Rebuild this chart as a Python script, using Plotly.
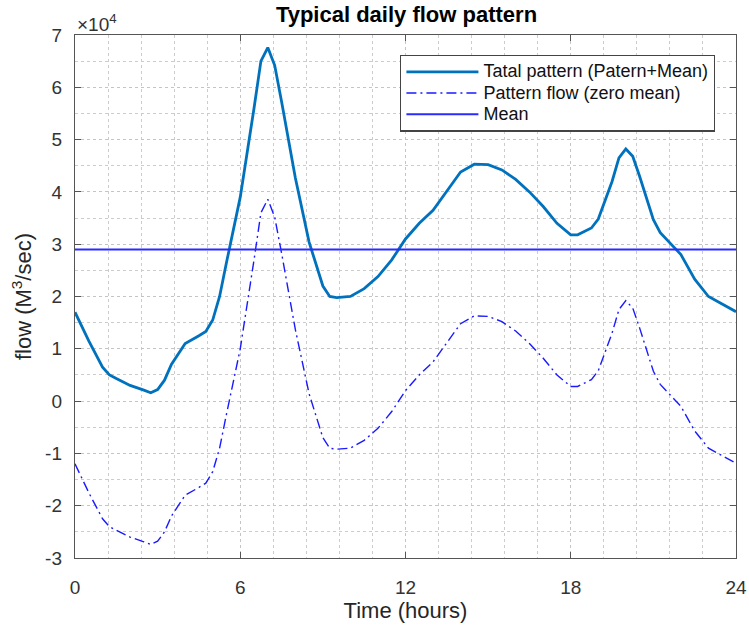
import plotly.graph_objects as go

hours = [0, 0.5, 1, 1.25, 1.5, 2, 2.5, 2.75, 3, 3.25, 3.5, 4, 4.5, 4.75, 5,
         5.25, 5.5, 6, 6.5, 6.75, 7, 7.25, 7.5, 8, 8.5, 9, 9.25, 9.5, 10, 10.5,
         11, 11.5, 12, 12.5, 13, 13.5, 14, 14.5, 15, 15.5, 16, 16.5, 17, 17.5, 18,
         18.25, 18.75, 19, 19.5, 19.75, 20, 20.25, 20.5, 21, 21.25, 22, 22.5, 23, 23.5, 24]

total_flow = [17000, 11500, 6500, 5000, 4300, 3000, 2100, 1600, 2200, 4000,
              7000, 11000, 12500, 13300, 15500, 20000, 26500, 39000, 56000, 65000,
              67600, 64200, 57300, 42700, 30400, 22000, 20000, 19800, 20000, 21500,
              23800, 27000, 31000, 34000, 36500, 40200, 43800, 45300, 45200, 44200,
              42400, 40000, 37200, 34000, 31800, 31800, 33100, 34800, 42000, 46500,
              48200, 46800, 43000, 34700, 32200, 28000, 23300, 20000, 18500, 17100]

pattern_flow = [-12000, -17500, -22500, -24000, -24700, -26000, -26900, -27400, -26800, -25000,
                -22000, -18000, -16500, -15700, -13500, -9000, -2500, 10000, 27000, 36000,
                38600, 35200, 28300, 13700, 1400, -7000, -9000, -9200, -9000, -7500,
                -5200, -2000, 2000, 5000, 7500, 11200, 14800, 16300, 16200, 15200,
                13400, 11000, 8200, 5000, 2800, 2800, 4100, 5800, 13000, 17500,
                19200, 17800, 14000, 5700, 3200, -1000, -5700, -9000, -10500, -11900]

mean_flow = 29000

series_names = ["Tatal pattern (Patern+Mean)", "Pattern flow (zero mean)", "Mean"]

x_ticks = [0, 6, 12, 18, 24]
y_ticks = [-30000, -20000, -10000, 0, 10000, 20000, 30000, 40000, 50000, 60000, 70000]
y_tick_labels = ["-3", "-2", "-1", "0", "1", "2", "3", "4", "5", "6", "7"]

FONT = "Liberation Sans, Arial, sans-serif"


def legend_label(s):
    return '<span style="font-size:18px">' + s + '</span>'


fig = go.Figure()
fig.add_trace(go.Scatter(x=hours, y=total_flow, mode="lines",
                         name=legend_label(series_names[0]),
                         line=dict(color="#0072BD", width=2.8)))
fig.add_trace(go.Scatter(x=hours, y=pattern_flow, mode="lines",
                         name=legend_label(series_names[1]),
                         line=dict(color="#1a1aff", width=1.4, dash="10px,4px,2px,4px")))
fig.add_trace(go.Scatter(x=[0, 24], y=[mean_flow, mean_flow], mode="lines",
                         name=legend_label(series_names[2]),
                         line=dict(color="#2b2bff", width=2)))

axis_common = dict(
    showline=True, linecolor="#555555", linewidth=1.4, mirror="ticks",
    ticks="inside", ticklen=6, tickcolor="#555555", tickwidth=1.2,
    showgrid=True, gridcolor="#c4c4c4", griddash="dot", gridwidth=1,
    zeroline=False, automargin=False,
    tickfont=dict(family=FONT, size=19, color="#333333"),
)

fig.update_xaxes(range=[0, 24], tickvals=x_ticks, ticklabelstandoff=12,
                 minor=dict(dtick=1.2, tick0=0, showgrid=True, gridcolor="#cccccc",
                            griddash="dot", ticks=""),
                 title=dict(text="Time (hours)", standoff=5,
                            font=dict(family=FONT, size=22, color="#262626")),
                 **axis_common)
fig.update_yaxes(range=[-30000, 70000], tickvals=y_ticks, ticktext=y_tick_labels,
                 ticklabelstandoff=8,
                 minor=dict(dtick=5000, tick0=0, showgrid=True, gridcolor="#cccccc",
                            griddash="dot", ticks=""),
                 title=dict(text="flow (M<sup>3</sup>/sec)", standoff=7,
                            font=dict(family=FONT, size=22, color="#262626")),
                 **axis_common)

fig.add_annotation(text="\u00d710<sup>4</sup>", xref="paper", yref="paper",
                   x=0, y=1, xanchor="left", yanchor="bottom", showarrow=False,
                   yshift=-2, xshift=0,
                   font=dict(family=FONT, size=19, color="#333333"))

fig.update_layout(
    width=749, height=628,
    margin=dict(l=75, r=13, t=35, b=70),
    plot_bgcolor="white", paper_bgcolor="white",
    title=dict(text="<b>Typical daily flow pattern</b>", x=0.5427, xanchor="center",
               y=0.977, yanchor="middle",
               font=dict(family=FONT, size=22, color="#000000")),
    showlegend=True,
    legend=dict(x=0.4917, y=0.962, xanchor="left", yanchor="top",
                bgcolor="white", bordercolor="#444444", borderwidth=1.4,
                itemwidth=72, tracegroupgap=0,
                font=dict(family=FONT, size=14, color="#111111")),
)

fig.write_html("out.html")
